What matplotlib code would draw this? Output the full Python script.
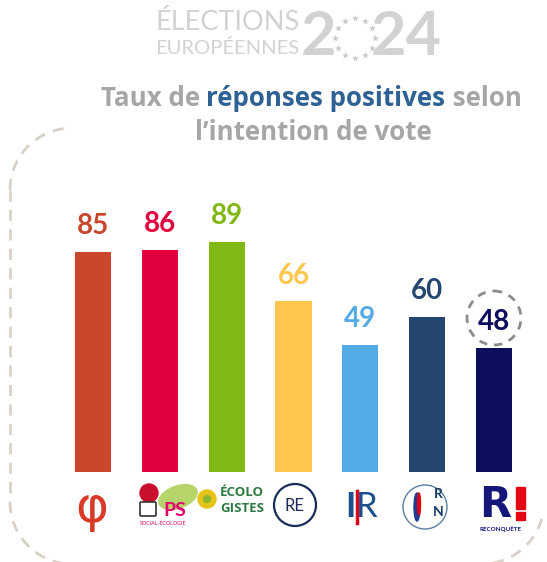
import numpy as np
import matplotlib
matplotlib.use("Agg")
import matplotlib.pyplot as plt
from matplotlib.patches import Circle, Ellipse, Rectangle, FancyBboxPatch

# data
parties = ["LFI", "PS", "Les Écologistes", "Renaissance", "LR", "RN", "Reconquête"]
values = [85, 86, 89, 66, 49, 60, 48]
colors = ["#C9472B", "#E2003E", "#82B814", "#FFC64E", "#54AAE4", "#24466F", "#0D0D5E"]
highlight = 6  # Reconquête, circled

W, H = 547, 562
GRAY = "#A6A6A6"
BLUE = "#2E6194"
FONT = "Lato"
TFONT = "Open Sans"

fig = plt.figure(figsize=(W / 100, H / 100), dpi=100)

# decoration layer in pixel coords (y down)
deco = fig.add_axes([0, 0, 1, 1])
deco.set_xlim(0, W)
deco.set_ylim(H, 0)
deco.axis("off")

# dashed frame (rounded, partly open)
dash = dict(color="#D8D1C8", lw=2, ls=(0, (4, 3)))
r = 62
t = np.linspace(np.pi, 1.5 * np.pi, 30)
deco.plot(72 + r * np.cos(t), 190 + r * np.sin(t), **dash)
deco.plot([10, 10], [190, 502], **dash)
t = np.linspace(np.pi, 0.5 * np.pi, 30)
deco.plot(72 + r * np.cos(t), 502 + r * np.sin(t), **dash)
deco.plot([72, 480], [564, 564], **dash)
t = np.linspace(0.5 * np.pi, 0.05 * np.pi, 30)
deco.plot(482 + r * np.cos(t), 502 + r * np.sin(t), **dash)

# header
hdr = "#D2D2D2"
deco.text(155, 23, "ÉLECTIONS", fontsize=19.5, color=hdr, family=FONT,
          ha="left", va="center")
deco.text(155, 48, "EUROPÉENNES", fontsize=14.5, color=hdr, family=FONT,
          ha="left", va="center")
deco.text(318, 37, "2", fontsize=44, color=hdr, family=FONT, weight="bold",
          ha="center", va="center")
deco.text(406, 37, "24", fontsize=44, color=hdr, family=FONT, weight="bold",
          ha="center", va="center")
ang = np.linspace(0, 2 * np.pi, 12, endpoint=False)
deco.scatter(355 + 20 * np.cos(ang), 38 + 20 * np.sin(ang), marker="*",
             s=28, color="#C8C8C8", linewidths=0)

# title with coloured middle part
TS = 18.6
fig.canvas.draw()
rend = fig.canvas.get_renderer()
parts = [("Taux de ", GRAY), ("réponses positives", BLUE), (" selon", GRAY)]
tmp = [deco.text(0, 0, s, fontsize=TS, weight="bold", family=TFONT) for s, _ in parts]
widths = [tt.get_window_extent(rend).width for tt in tmp]
for tt in tmp:
    tt.remove()
x0 = 311 - sum(widths) / 2
for (s, c), w in zip(parts, widths):
    deco.text(x0, 99, s, fontsize=TS, weight="bold", family=TFONT, color=c,
              ha="left", va="center")
    x0 += w
deco.text(313, 133, "l’intention de vote", fontsize=TS, weight="bold",
          family=TFONT, color=GRAY, ha="center", va="center")

# dashed circle round the highlighted value
deco.add_patch(Circle((494, 318), 27, fill=False, ec="#8C8C8C", lw=2,
                      ls=(0, (3, 2.5))))

# party logos (simplified, drawn as text/shapes)
deco.text(92, 508, "φ", fontsize=36, color="#D93A26", family="DejaVu Sans",
          ha="center", va="center")

deco.add_patch(Ellipse((178, 497), 40, 22, angle=-20, color="#B5D56A"))
deco.add_patch(Circle((149, 493), 9, color="#C8102E"))
deco.add_patch(FancyBboxPatch((141, 503), 14, 12, boxstyle="round,pad=1",
                              fc="white", ec="#333333", lw=1.2))
deco.text(175, 510, "PS", fontsize=14, weight="bold", color="#E5006D",
          family=FONT, ha="center", va="center")
deco.text(163, 523, "SOCIAL-ÉCOLOGIE", fontsize=3.8, color="#E5006D",
          family=FONT, ha="center", va="center")

deco.add_patch(Circle((207, 499), 9, color="#E7C318"))
deco.add_patch(Circle((207, 499), 3.5, color="#8DB52B"))
deco.text(242, 493, "ÉCOLO", fontsize=9.5, weight="bold", color="#2F7A43",
          family=TFONT, ha="center", va="center")
deco.text(242, 508, "GISTES", fontsize=9.5, weight="bold", color="#2F7A43",
          family=TFONT, ha="center", va="center")

deco.add_patch(Circle((295, 505), 21, fill=False, ec="#1B2B5B", lw=1.6))
deco.text(295, 506, "RE", fontsize=12, color="#1B2B5B", family=FONT,
          ha="center", va="center")

deco.text(350, 507, "I", fontsize=25, color="#1A4E8C", family=FONT,
          weight="bold", ha="center", va="center")
deco.plot([357, 357], [491, 523], color="#E1001A", lw=2.5)
deco.text(367, 507, "R", fontsize=25, color="#1A4E8C", family=FONT,
          ha="center", va="center")

deco.add_patch(Circle((425, 507), 22, fill=False, ec="#5A7FA0", lw=1))
deco.add_patch(Ellipse((417, 507), 6, 28, color="#1E3D8F"))
deco.add_patch(Ellipse((419, 504), 3, 22, color="#E1001A"))
deco.text(438, 494, "R", fontsize=10, weight="bold", color="#163D66",
          family=FONT, ha="center", va="center")
deco.text(438, 512, "N", fontsize=10, weight="bold", color="#163D66",
          family=FONT, ha="center", va="center")

deco.text(495, 505, "R", fontsize=30, weight="bold", color="#16167A",
          family="DejaVu Sans", ha="center", va="center")
deco.add_patch(Rectangle((516, 487), 9, 22, color="#E30613"))
deco.add_patch(Rectangle((516, 512), 9, 8, color="#E30613"))
deco.text(500, 529, "RECONQUÊTE", fontsize=4.5, weight="bold",
          color="#16167A", family=FONT, ha="center", va="center")

# bars
ax = fig.add_axes([59.6 / W, (H - 472) / H, 467.8 / W, 258.4 / H])
ax.patch.set_alpha(0)
idx = np.arange(len(values))
ax.bar(idx, values, width=0.54, color=colors)
for i, v in enumerate(values):
    ax.text(i, v + 5, str(v), ha="center", va="bottom", fontsize=20,
            weight="bold", color=colors[i], family=FONT)
ax.set_xlim(-0.5, len(values) - 0.5)
ax.set_ylim(0, 100)
ax.axis("off")

fig.savefig("out.png", dpi=100)
